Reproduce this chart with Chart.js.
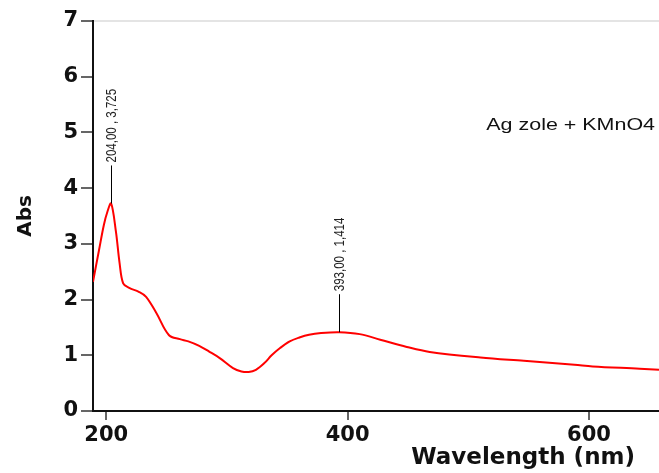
<!DOCTYPE html>
<html>
<head>
<meta charset="utf-8">
<script src="https://cdn.jsdelivr.net/npm/chart.js@4.4.0/dist/chart.umd.min.js"></script>
<style>
  html, body { margin: 0; padding: 0; background: #fff; }
  #wrap { width: 659px; height: 473px; }
</style>
</head>
<body>
<div id="wrap"><canvas id="myChart" width="659" height="473"></canvas></div>
<script>
// spectrum (nm, Abs)
var wavelength = [189, 194, 198, 201, 204, 208, 211, 214, 219, 227, 233, 241.5, 252, 261, 268, 277, 285, 294, 305, 312, 318, 324, 331, 337, 344, 352, 360, 368, 378, 393, 410, 427, 449, 468, 510, 546, 588, 603, 642, 658];
var absorb = [2.32, 2.89, 3.34, 3.58, 3.725, 3.22, 2.66, 2.29, 2.21, 2.14, 2.05, 1.76, 1.36, 1.29, 1.25, 1.17, 1.07, 0.95, 0.77, 0.71, 0.70, 0.74, 0.86, 1.0, 1.13, 1.25, 1.32, 1.37, 1.40, 1.414, 1.38, 1.28, 1.15, 1.06, 0.96, 0.90, 0.83, 0.80, 0.76, 0.74];

var xTicks = [200, 400, 600];
var yTicks = [0, 1, 2, 3, 4, 5, 6, 7];

var peakX = [204, 393];
var peakY = [3.725, 1.414];
var peakLabels = ['204,00 , 3,725', '393,00 , 1,414'];

var sampleName = 'Ag zole + KMnO4';

var pts = [];
wavelength.forEach(function (w, i) {
    pts.push({ x: w, y: absorb[i] });
});

// peak markers + sample name
var peakPlugin = {
    id: 'peaks',
    afterDatasetsDraw: function (chart) {
        var c = chart.ctx;
        var sx = chart.scales.x, sy = chart.scales.y;
        c.save();
        peakX.forEach(function (px, i) {
            var x = sx.getPixelForValue(px);
            var y = sy.getPixelForValue(peakY[i]);
            c.strokeStyle = '#000';
            c.lineWidth = 1;
            c.beginPath();
            c.moveTo(Math.round(x) + 0.5, y);
            c.lineTo(Math.round(x) + 0.5, y - 38);
            c.stroke();
            c.save();
            c.translate(Math.round(x) + 0.5, y - 41);
            c.scale(1.3, 1);
            c.rotate(-Math.PI / 2);
            c.fillStyle = '#222';
            c.font = '11.5px "Liberation Sans", Arial, sans-serif';
            c.textAlign = 'left';
            c.textBaseline = 'middle';
            c.fillText(peakLabels[i], 0, 0);
            c.restore();
        });
        c.save();
        c.translate(655, 130);
        c.scale(1.3, 1);
        c.fillStyle = '#111';
        c.font = '16.5px "Liberation Sans", Arial, sans-serif';
        c.textAlign = 'right';
        c.textBaseline = 'alphabetic';
        c.fillText(sampleName, 0, 0);
        c.restore();
        c.restore();
    }
};

var ctx = document.getElementById('myChart').getContext('2d');
var myChart = new Chart(ctx, {
    type: 'line',
    data: {
        datasets: [{
            label: sampleName,
            data: pts,
            borderColor: 'rgb(255, 0, 0)',
            backgroundColor: 'rgb(255, 0, 0)',
            borderWidth: 2,
            pointRadius: 0,
            tension: 0.35,
            fill: false
        }]
    },
    options: {
        responsive: false,
        animation: false,
        layout: { padding: { top: 21, right: 0, left: 0, bottom: 0 } },
        plugins: {
            legend: { display: false },
            tooltip: { enabled: false }
        },
        scales: {
            x: {
                type: 'linear',
                min: 189,
                max: 658,
                afterBuildTicks: function (axis) {
                    axis.ticks = xTicks.map(function (v) { return { value: v }; });
                },
                afterFit: function (scale) { scale.height = 62; },
                grid: {
                    drawOnChartArea: false,
                    tickLength: 9,
                    tickColor: '#666',
                    lineWidth: 2
                },
                border: { color: '#111', width: 2 },
                ticks: {
                    color: '#111',
                    padding: 3,
                    maxRotation: 0,
                    font: { family: '"DejaVu Sans", sans-serif', size: 21, weight: 'bold' }
                },
                title: {
                    display: true,
                    text: 'Wavelength (nm)   ',
                    align: 'end',
                    color: '#111',
                    padding: { top: 0, bottom: 1 },
                    font: { family: '"DejaVu Sans", sans-serif', size: 23, weight: 'bold' }
                }
            },
            y: {
                min: 0,
                max: 7,
                afterBuildTicks: function (axis) {
                    axis.ticks = yTicks.map(function (v) { return { value: v }; });
                },
                afterFit: function (scale) { scale.width = 93; },
                grid: {
                    color: function (c) { return c.tick && c.tick.value === 7 ? '#e4e4e4' : 'rgba(0,0,0,0)'; },
                    tickColor: '#666',
                    tickLength: 12,
                    lineWidth: 2
                },
                border: { color: '#111', width: 2 },
                ticks: {
                    color: '#111',
                    padding: 3,
                    font: { family: '"DejaVu Sans", sans-serif', size: 21, weight: 'bold' }
                },
                title: {
                    display: true,
                    text: 'Abs',
                    color: '#111',
                    padding: { top: 14, bottom: 0 },
                    font: { family: '"DejaVu Sans", sans-serif', size: 20, weight: 'bold' }
                }
            }
        }
    },
    plugins: [peakPlugin]
});
</script>
</body>
</html>
